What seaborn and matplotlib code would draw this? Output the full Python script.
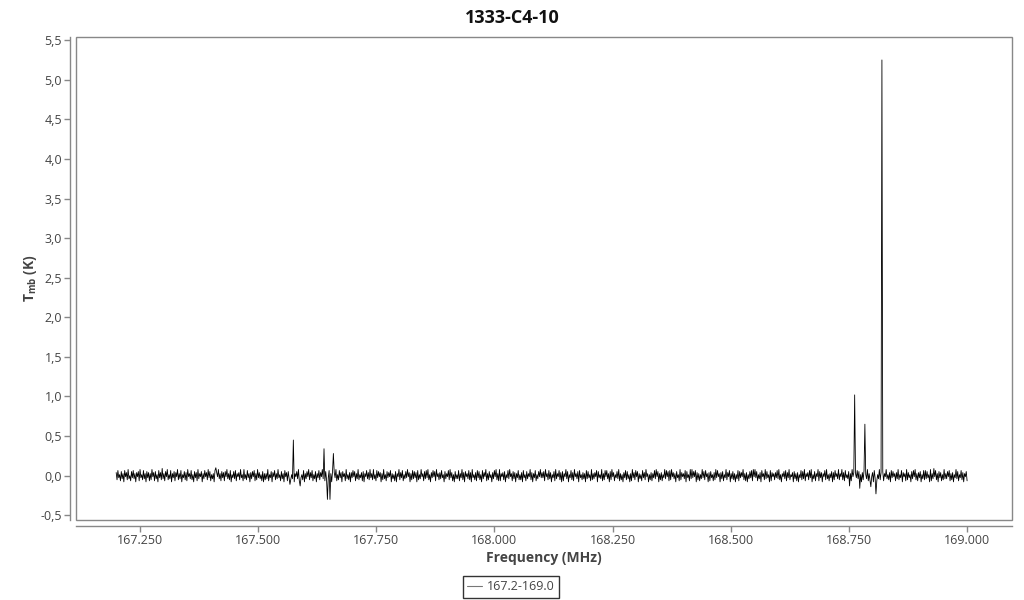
import numpy as np
import pandas as pd
import seaborn as sns
import matplotlib
matplotlib.use("Agg")
import matplotlib.pyplot as plt
from matplotlib.ticker import FuncFormatter, MultipleLocator
from matplotlib.lines import Line2D
from matplotlib.patches import Rectangle

title = "1333-C4-10"
series_name = "167.2-169.0"
freq_start, freq_end = 167.2, 169.0

# baseline noise, in steps of 13 mK
noise_unit = 0.013
noise_steps = [
    3,-4,5,-2,1,-5,4,-3,2,-6,5,-1,3,-4,6,-3,0,-5,4,-2,5,-3,2,-6,3,
    -1,4,-5,6,-2,1,-4,5,-3,2,-6,4,-2,3,-5,2,-4,6,-1,3,-5,4,-3,1,-6,
    5,-2,3,-4,7,-3,2,-5,4,-1,6,-4,1,-3,5,-6,2,-2,4,-5,3,-1,6,-4,2,
    -3,5,-6,1,-2,4,-4,3,-5,6,-1,2,-3,5,-4,1,-6,4,-2,3,-5,6,-3,2,-1,
    4,-6,2,-3,5,-1,3,-4,6,-2,4,-5,1,-3,2,-6,5,-4,3,-1,6,-3,2,-5,4,
    -2,3,-5,4,-1,6,-3,2,-4,5,-6,1,-2,4,-3,5,-5,2,-1,3,-4,6,-2,1,-5,
    6,-3,1,-4,5,-2,2,-6,3,-3,4,-1,5,-5,2,-4,6,-2,3,-3,1,-5,4,-6,2,
    -4,2,-3,6,-5,1,-2,4,-6,3,-1,5,-4,2,-3,6,-2,1,-5,4,-3,2,-6,5,-1,
    3,-5,4,-2,6,-4,1,-3,5,-6,2,-1,4,-3,6,-5,3,-2,1,-4,5,-6,2,-3,4,
    -1,6,-4,3,-2,5,-5,1,-3,4,-6,2,-2,5,-4,3,-1,6,-3,2,-5,4,-4,1,-2,
    5,-1,2,-6,4,-3,3,-2,6,-5,1,-4,5,-2,3,-6,4,-1,2,-5,6,-3,1,-4,3,
    -6,3,-2,5,-1,4,-5,2,-3,6,-4,1,-2,3,-5,4,-6,2,-1,5,-3,3,-4,6,-2,
    2,-4,6,-3,1,-5,5,-2,4,-1,3,-6,2,-4,6,-3,1,-5,4,-2,3,-1,5,-6,2,
    -3,1,-5,4,-6,2,-1,6,-4,3,-2,5,-5,1,-3,4,-2,6,-1,3,-6,2,-4,5,-3,
    4,-2,3,-6,5,-4,1,-3,6,-1,2,-5,4,-3,5,-2,6,-4,1,-6,3,-2,5,-1,4,
    -5,6,-1,2,-4,3,-3,5,-2,1,-6,4,-3,2,-1,5,-4,6,-2,3,-5,1,-6,4,-3,
    1,-3,5,-5,2,-2,6,-4,3,-6,4,-1,2,-3,5,-4,3,-6,6,-2,1,-4,3,-5,5,
    -2,4,-4,1,-6,5,-3,3,-1,6,-5,2,-4,4,-2,1,-6,3,-3,5,-1,6,-4,2,-5,
    6,-5,2,-1,3,-4,4,-6,1,-2,5,-3,6,-1,2,-5,4,-3,3,-6,2,-2,5,-4,1,
    -4,3,-6,5,-2,1,-5,4,-3,2,-1,6,-4,3,-6,2,-2,5,-5,1,-3,4,-1,6,-2,
    3,-2,4,-5,6,-1,2,-4,5,-3,3,-6,1,-2,4,-5,6,-3,2,-1,5,-4,3,-6,4,
    -5,2,-1,6,-3,4,-6,1,-2,5,-4,3,-5,6,-1,2,-3,4,-6,5,-2,1,-4,3,-3,
    2,-6,5,-3,4,-2,1,-5,6,-4,2,-3,3,-1,5,-6,4,-2,1,-3,6,-5,2,-4,5,
    -1,5,-3,2,-6,4,-4,6,-1,3,-5,1,-2,4,-3,6,-5,2,-4,1,-6,3,-2,5,-4,
    4,-3,1,-6,2,-5,6,-2,3,-4,5,-1,4,-6,2,-3,1,-5,5,-2,3,-4,6,-1,2,
    -6,1,-4,3,-5,2,-2,5,-3,6,-1,4,-6,2,-4,3,-5,1,-2,6,-3,5,-1,4,-5,
    5,-4,6,-1,3,-3,2,-6,4,-2,1,-5,6,-4,3,-1,2,-3,5,-6,4,-2,1,-5,6,
    -3,6,-2,4,-1,5,-6,3,-4,2,-5,1,-3,6,-2,4,-4,5,-1,2,-6,3,-5,4,-2,
    1,-5,3,-4,6,-2,5,-1,2,-6,3,-3,4,-5,1,-2,6,-4,3,-1,5,-6,2,-3,4,
    -4,2,-6,1,-3,5,-5,4,-2,3,-1,6,-4,2,-5,3,-6,1,-3,4,-2,5,-5,6,-1,
    6,-2,4,-5,1,-3,3,-6,5,-1,2,-4,6,-3,4,-2,1,-6,5,-5,3,-1,2,-4,3,
    -2,5,-3,6,-4,1,-6,2,-1,4,-3,5,-5,3,-2,6,-4,1,-1,3,-6,4,-3,2,-5,
    3,-6,1,-2,5,-4,4,-3,6,-5,2,-1,3,-4,5,-2,6,-6,1,-3,4,-5,2,-1,6,
    -5,4,-2,3,-6,2,-1,5,-4,6,-3,1,-5,2,-2,4,-6,3,-4,5,-1,2,-3,6,-4,
    2,-1,6,-4,3,-5,5,-2,1,-3,4,-6,2,-5,6,-1,3,-4,2,-2,5,-3,4,-6,1,
    -6,3,-4,5,-2,1,-3,6,-5,2,-4,4,-1,3,-6,5,-2,2,-5,1,-3,6,-4,3,-2,
    4,-5,2,-1,6,-3,1,-4,3,-6,5,-2,4,-1,2,-5,3,-3,6,-4,1,-2,5,-6,3,
    -1,2,-5,6,-4,3,-2,1,-6,4,-3,5,-1,6,-4,2,-5,3,-2,4,-6,1,-3,5,-4,
    5,-3,4,-2,1,-6,6,-5,2,-3,3,-1,5,-4,2,-6,4,-2,3,-5,1,-4,6,-3,2,
    -3,4,-1,5,-5,2,-4,3,-6,1,-2,6,-3,4,-5,1,-2,5,-4,3,-6,2,-1,4,-5,
]

# spectral features (MHz, K)
line_freqs = [167.410, 167.567, 167.575, 167.590, 167.640, 167.647, 167.653, 167.660,
              168.752, 168.763, 168.773, 168.784, 168.797, 168.807, 168.820, 168.930]
line_peaks = [0.10, -0.11, 0.45, -0.13, 0.34, -0.30, -0.30, 0.28,
              -0.13, 1.02, -0.16, 0.65, -0.14, -0.23, 5.25, 0.09]

freq = np.linspace(freq_start, freq_end, len(noise_steps))
tmb = np.array(noise_steps, dtype=float) * noise_unit
for f, p in zip(line_freqs, line_peaks):
    i = int(np.argmin(np.abs(freq - f)))
    tmb[i] = p

df = pd.DataFrame({"Frequency": freq, "Tmb": tmb})

sns.set_theme(style="white")
plt.rcParams["font.family"] = ["Open Sans", "DejaVu Sans"]

fig = plt.figure(figsize=(10.24, 6), dpi=100)
ax = fig.add_axes([76 / 1024, 1 - 520 / 600, (1012 - 76) / 1024, (520 - 37) / 600])

sns.lineplot(data=df, x="Frequency", y="Tmb", ax=ax, color="black", linewidth=0.6,
             legend=False, estimator=None, sort=False)

ax.set_xlim(167.115, 169.095)
ax.set_ylim(-0.56, 5.54)
ax.xaxis.set_major_locator(MultipleLocator(0.25))
ax.yaxis.set_major_locator(MultipleLocator(0.5))
ax.xaxis.set_major_formatter(FuncFormatter(lambda v, p: f"{v:.3f}"))
ax.yaxis.set_major_formatter(FuncFormatter(lambda v, p: f"{v:.1f}".replace(".", ",")))

gray = "#888888"
for s in ["top", "right"]:
    ax.spines[s].set_visible(False)
for s in ["left", "bottom"]:
    ax.spines[s].set_color(gray)
    ax.spines[s].set_linewidth(1)
    ax.spines[s].set_position(("outward", 4))
ax.add_patch(Rectangle((0, 0), 1, 1, transform=ax.transAxes, fill=False,
                       edgecolor=gray, linewidth=1, clip_on=False))

ax.tick_params(axis="both", which="major", length=4, width=1, color=gray,
               labelsize=9, labelcolor="#444444", left=True, bottom=True, pad=2)

ax.set_xlabel("Frequency (MHz)", fontsize=10, fontweight="bold", color="#444444", labelpad=3)
ax.set_ylabel(r"T$_{\mathregular{mb}}$ (K)", fontsize=10, fontweight="bold", color="#444444", labelpad=1)
fig.suptitle(title, fontsize=13, fontweight="bold", y=0.985, x=0.5, color="#111111")

handle = Line2D([0], [0], color="#777777", linewidth=0.8)
leg = fig.legend([handle], [series_name], loc="center", bbox_to_anchor=(511 / 1024, 1 - 587 / 600),
                 frameon=True, fancybox=False, fontsize=9, handlelength=1.2, handletextpad=0.4,
                 borderpad=0.35, labelcolor="#444444")
leg.get_frame().set_edgecolor("black")
leg.get_frame().set_linewidth(1)

fig.savefig("out.png", dpi=100)
